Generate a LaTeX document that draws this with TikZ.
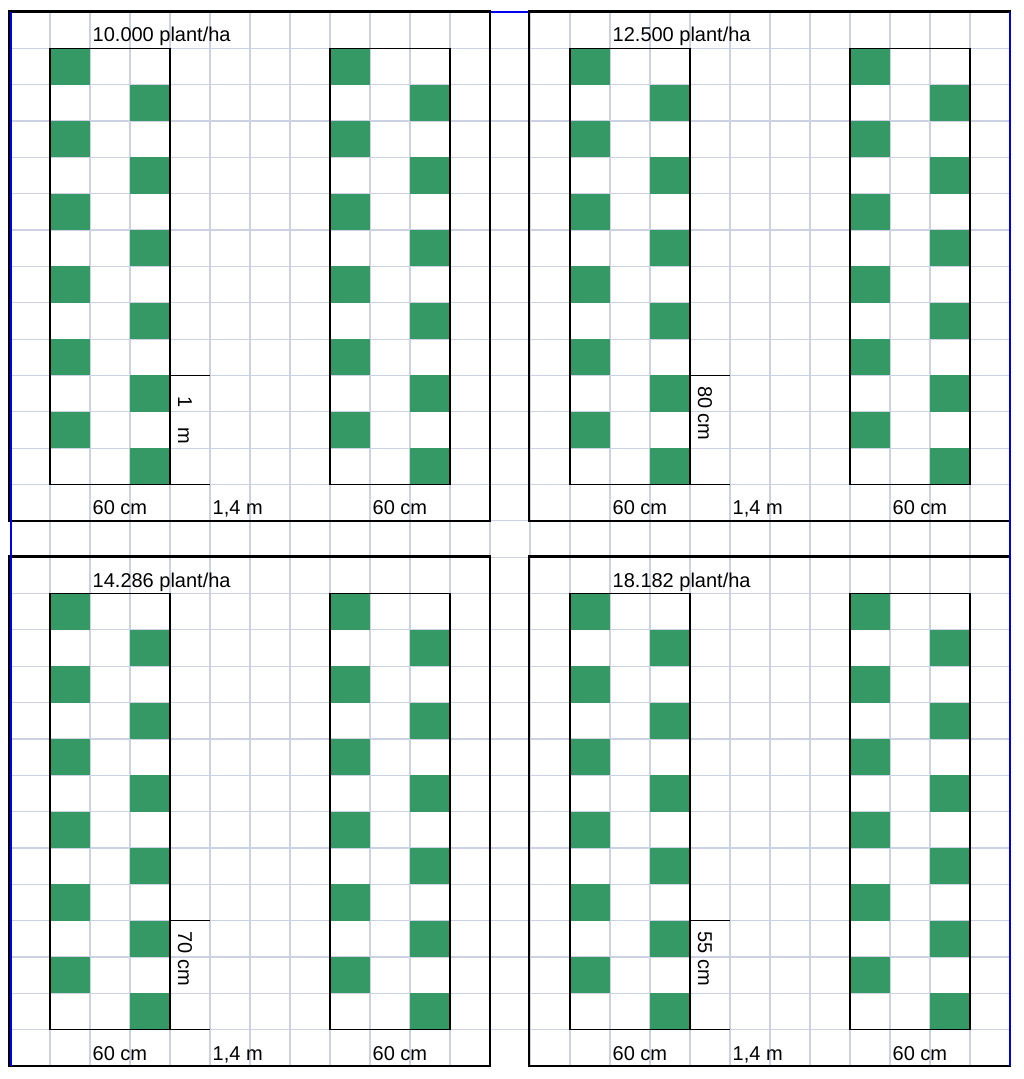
\documentclass[tikz,border=0pt]{standalone}
\usepackage{fontspec}
\setmainfont{Liberation Sans}
\definecolor{gridc}{RGB}{204,209,228}
\definecolor{plantg}{RGB}{53,153,102}
\definecolor{outerblue}{RGB}{0,0,240}
\begin{document}
\begin{tikzpicture}[x=1pt,y=-1pt,
  gridline/.style={draw=gridc, line width=1.2pt},
  plant/.style={fill=plantg, draw=none},
  block/.style={draw=black, line width=1.5pt},
  panel/.style={draw=black, line width=2.6pt},
  lbl/.style={font=\fontsize{20}{24}\selectfont, inner sep=0pt, anchor=base west},
  vlbl/.style={lbl, rotate=-90}]
\useasboundingbox (0,0) rectangle (1024,1079);
\def\rh{36.345}
% grid
\foreach \i in {1,...,24} \draw[gridline] ({10+40*\i},12) -- ({10+40*\i},1066);
\foreach \j in {1,...,28} \draw[gridline] (10,{12+\rh*\j}) -- (1010,{12+\rh*\j});
% blue top edge (under panels)
\draw[outerblue, line width=2pt] (10,12) -- (1010,12);
% panels
\foreach \px/\py in {0/0, 520/0, 0/15, 520/15} {
  \pgfmathsetmacro{\oy}{\py*\rh}
  % green plants
  \foreach \r in {1,...,12} {
    \pgfmathsetmacro{\ya}{12+\oy+\rh*\r}
    \pgfmathsetmacro{\yb}{12+\oy+\rh*(\r+1)}
    \pgfmathtruncatemacro{\odd}{mod(\r,2)}
    \ifnum\odd=1
      \fill[plant] ({50+\px},\ya) rectangle ({90+\px},\yb);
      \fill[plant] ({330+\px},\ya) rectangle ({370+\px},\yb);
    \else
      \fill[plant] ({130+\px},\ya) rectangle ({170+\px},\yb);
      \fill[plant] ({410+\px},\ya) rectangle ({450+\px},\yb);
    \fi
  }
  % block outlines
  \draw[block] ({50+\px},{12+\oy+\rh}) rectangle ({170+\px},{12+\oy+13*\rh});
  \draw[block] ({330+\px},{12+\oy+\rh}) rectangle ({450+\px},{12+\oy+13*\rh});
  % dimension marks
  \draw[block] ({170+\px},{12+\oy+10*\rh}) -- ({210+\px},{12+\oy+10*\rh});
  \draw[block] ({170+\px},{12+\oy+13*\rh}) -- ({210+\px},{12+\oy+13*\rh});
  % panel border
  \draw[panel] ({10+\px-1},{12+\oy-0.8}) rectangle ({490+\px},{12+\oy+14*\rh});
  % bottom labels
  \node[lbl] (w1-\px-\py) at ({92.5+\px},{12+\oy+14*\rh-6}) {60 cm};
  \node[lbl] (g-\px-\py) at ({212.5+\px},{12+\oy+14*\rh-6}) {1,4 m};
  \node[lbl] (w2-\px-\py) at ({372.5+\px},{12+\oy+14*\rh-6}) {60 cm};
}
% outer blue sides
\draw[outerblue, line width=2pt] (10.5,12) -- (10.5,1066);
\draw[outerblue, line width=2pt] (1010,12) -- (1010,1066);
% titles
\node[lbl] (t1) at (92.5,{12+\rh-6.5}) {10.000 plant/ha};
\node[lbl] (t2) at (612.5,{12+\rh-6.5}) {12.500 plant/ha};
\node[lbl] (t3) at (92.5,{12+16*\rh-6.5}) {14.286 plant/ha};
\node[lbl] (t4) at (612.5,{12+16*\rh-6.5}) {18.182 plant/ha};
% vertical spacing labels
\node[vlbl] (d1) at (178,396) {1\hspace{19.7pt}m};
\node[vlbl] (d2) at (698,386) {80 cm};
\node[vlbl] (d3) at (178,{386+15*\rh}) {70 cm};
\node[vlbl] (d4) at (698,{386+15*\rh}) {55 cm};
\end{tikzpicture}
\end{document}
